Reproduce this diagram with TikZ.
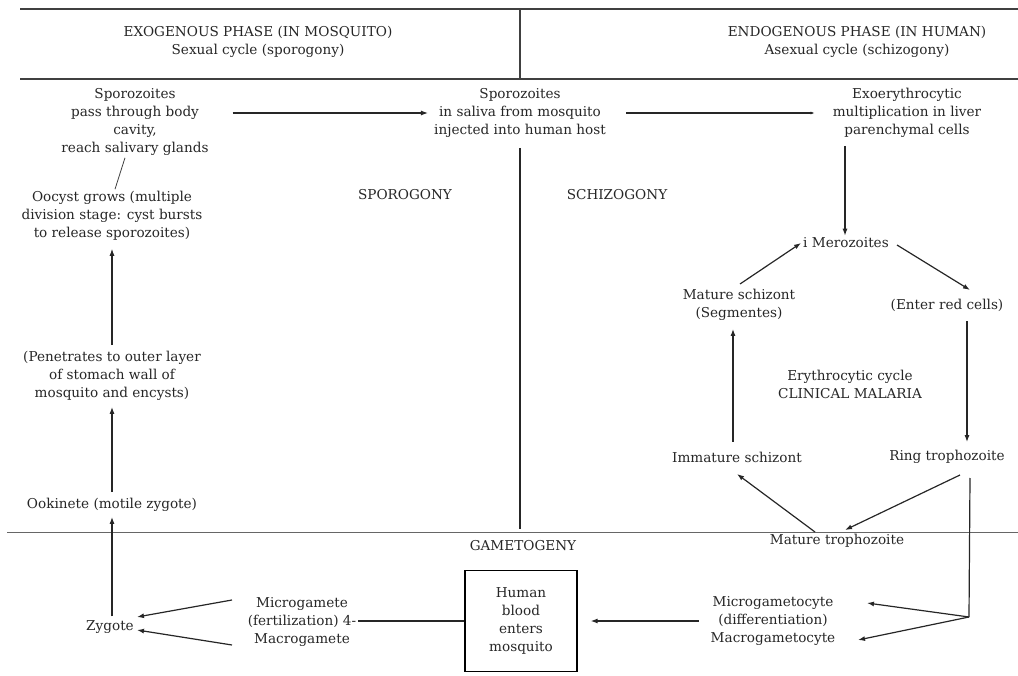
\documentclass[tikz,border=0pt]{standalone}
\usepackage{fontspec}
\setmainfont{DejaVu Serif}
\usetikzlibrary{arrows.meta, positioning}

\begin{document}
\begin{tikzpicture}[
    x=1pt, y=-1pt,
    every node/.style={font=\fontsize{13.6}{18}\selectfont, text=black!85, inner sep=2pt},
    stage/.style={align=center},
    rule/.style={line width=1.6pt, black!75},
    thinrule/.style={line width=0.7pt, black!60},
    arrow/.style={line width=1.2pt, black!85, -{Latex[length=7pt,width=5pt]}},
    plain/.style={line width=1.2pt, black!85}
  ]
    \useasboundingbox (0,0) rectangle (1018,676);
    % Frame lines
    \draw[rule] (20,9) -- (1018,9);
    \draw[rule] (20,79) -- (1018,79);
    \draw[rule] (520,9) -- (520,79);
    \draw[thinrule] (7,532) -- (1018,532);
    % Headings
    \node[stage] (exohead) at (258,42) {EXOGENOUS PHASE (IN MOSQUITO)\\Sexual cycle (sporogony)};
    \node[stage] (endohead) at (857,42) {ENDOGENOUS PHASE (IN HUMAN)\\Asexual cycle (schizogony)};
    \node (sporogony) at (405,195) {SPOROGONY};
    \node (schizogony) at (617,195) {SCHIZOGONY};
    \node (gametogeny) at (523,546) {GAMETOGENY};
    % Mosquito side
    \node[stage] (sporglands) at (135,122) {Sporozoites\\pass through body\\cavity,\\reach salivary glands};
    \node[stage] (oocyst) at (112,216) {Oocyst grows (multiple\\division stage: cyst bursts\\to release sporozoites)};
    \node[stage] (penetrate) at (112,376) {(Penetrates to outer layer\\of stomach wall of\\mosquito and encysts)};
    \node (ookinete) at (112,505) {Ookinete (motile zygote)};
    \node (zygote) at (110,627) {Zygote};
    \node[stage] (gamete) at (302,622) {Microgamete\\(fertilization) 4-\\Macrogamete};
    \node[stage, draw, line width=1.2pt, minimum width=112pt, minimum height=101pt] (bloodbox) at (521,621) {Human\\blood\\enters\\mosquito};
    % Human side
    \node[stage] (sporsaliva) at (520,113) {Sporozoites\\in saliva from mosquito\\injected into human host};
    \node[stage] (exoliver) at (907,113) {Exoerythrocytic\\multiplication in liver\\parenchymal cells};
    \node (mero) at (846,243) {i Merozoites};
    \node[stage] (matschiz) at (739,305) {Mature schizont\\(Segmentes)};
    \node (redcells) at (947,305) {(Enter red cells)};
    \node[stage] (erythro) at (850,384) {Erythrocytic cycle\\CLINICAL MALARIA};
    \node (immschiz) at (737,457) {Immature schizont};
    \node (ring) at (947,457) {Ring trophozoite};
    \node (mattroph) at (837,541) {Mature trophozoite};
    \node[stage] (gametocyte) at (773,621) {Microgametocyte\\(differentiation)\\Macrogametocyte};
    \coordinate (split) at (969,617);
    % Arrows (mosquito cycle)
    \draw[arrow, shorten <=22pt, shorten >=4pt] (sporglands.east |- sporsaliva.west) -- (sporsaliva.west);
    \draw[arrow, shorten <=18pt, shorten >=16pt, -{Latex[length=4pt,width=3pt]}] (sporsaliva.east) -- (sporsaliva.east -| exoliver.west);
    \draw[line width=0.8pt, black!75] ([xshift=-10pt]sporglands.south) -- ([xshift=3pt]oocyst.north);
    \draw[arrow, shorten <=4pt, shorten >=6pt] (penetrate.north) -- (oocyst.south);
    \draw[arrow, shorten <=4pt, shorten >=4pt] (ookinete.north) -- (penetrate.south);
    \draw[arrow, shorten <=2pt, shorten >=3pt] (zygote.north -| ookinete.south) -- (ookinete.south);
    \draw[arrow] ([shift={(-70,-22)}]gamete.center) -- ([shift={(27,-10)}]zygote.center);
    \draw[arrow] ([shift={(-70,23)}]gamete.center) -- ([shift={(27,3)}]zygote.center);
    \draw[plain] (bloodbox.west) -- (gamete.east |- bloodbox.west);
    % Arrows (human cycle)
    \draw[arrow, shorten <=6pt] ([xshift=-62pt]exoliver.south) -- ([xshift=-1pt]mero.north);
    \draw[arrow] ([shift={(1,-21)}]matschiz.center) -- (mero.west);
    \draw[arrow] ([shift={(51,2)}]mero.center) -- ([shift={(23,-15)}]redcells.center);
    \draw[arrow, shorten <=8pt, shorten >=6pt] ([xshift=20pt]redcells.south) -- ([xshift=20pt]ring.north);
    \draw[arrow, shorten <=8pt, shorten >=6pt] ([xshift=-4pt]immschiz.north) -- ([xshift=-6pt]matschiz.south);
    \draw[arrow] ([shift={(13,18)}]ring.center) -- ([shift={(8,-11)}]mattroph.center);
    \draw[arrow] ([shift={(-22,-9)}]mattroph.center) -- ([shift={(0,17)}]immschiz.center);
    \draw[plain] ([shift={(23,21)}]ring.center) -- (split);
    \draw[arrow] (split) -- ([shift={(94,-18)}]gametocyte.center);
    \draw[arrow] (split) -- ([shift={(85,19)}]gametocyte.center);
    \draw[arrow, shorten <=10pt, shorten >=13pt] (gametocyte.west) -- (bloodbox.east);
    % Dividing line
    \draw[plain, shorten <=8pt, shorten >=10pt] (sporsaliva.south) -- (sporsaliva.south |- gametogeny.north);
\end{tikzpicture}
\end{document}
